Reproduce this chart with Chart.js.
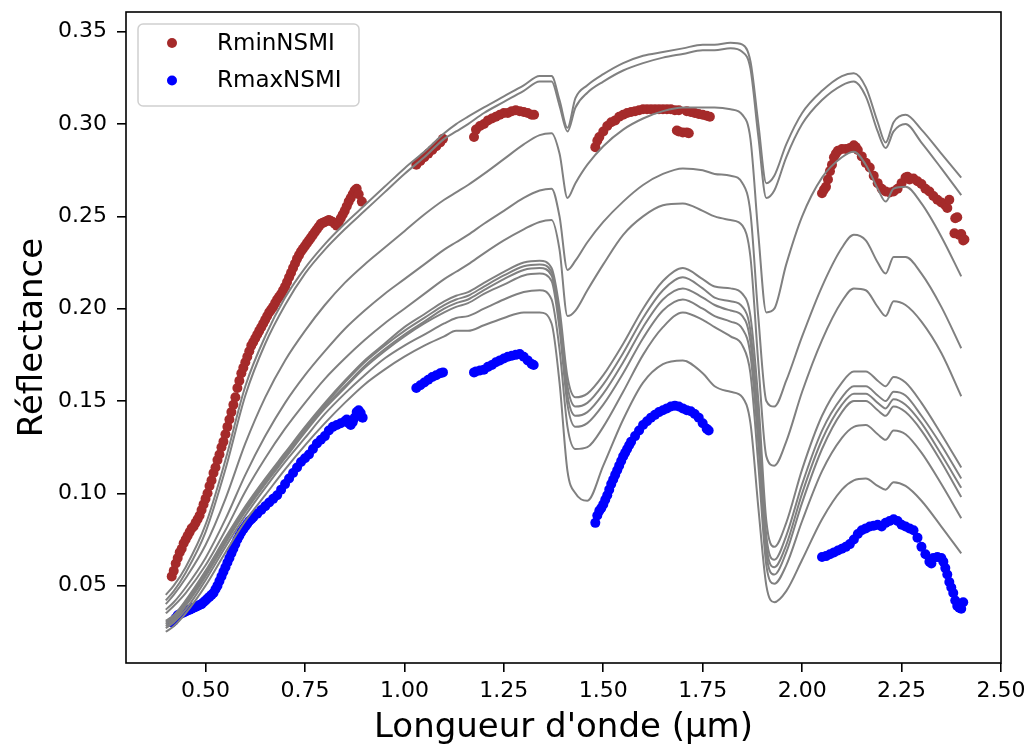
<!DOCTYPE html>
<html lang="fr">
<head>
<meta charset="utf-8">
<title>Réflectance</title>
<script src="https://cdn.jsdelivr.net/npm/chart.js@4.4.1/dist/chart.umd.min.js"></script>
<style>
  html, body { margin: 0; padding: 0; background: #fff; }
  #wrap { width: 1028px; height: 745px; }
</style>
</head>
<body>
<div id="wrap"><canvas id="chart" width="1028" height="745"></canvas></div>
<script>
// wavelengths (µm) shared by every grey spectrum
const wl = [0.40,0.42,0.45,0.50,0.55,0.60,0.65,0.70,0.75,0.80,0.85,0.90,0.95,1.00,1.05,1.10,1.13,1.16,1.20,1.25,
            1.30,1.34,1.37,1.39,1.41,1.43,1.46,1.50,1.55,1.60,1.65,1.70,1.75,1.78,1.82,1.85,1.87,1.89,1.91,1.93,
            1.96,2.00,2.05,2.10,2.13,2.16,2.19,2.21,2.23,2.26,2.30,2.35,2.40];

// reflectance spectra, brightest to darkest
const spec1  = [.045,.050,.060,.083,.118,.158,.185,.206,.222,.235,.246,.256,.266,.276,.285,.295,.300,.304,.309,.315,
                .321,.326,.326,.313,.298,.314,.321,.327,.333,.337,.339,.341,.343,.343,.344,.343,.334,.300,.268,.272,
                .289,.306,.318,.326,.3275,.320,.301,.290,.301,.305,.297,.284,.271];
const spec2  = [.042,.047,.057,.079,.113,.153,.181,.202,.219,.232,.243,.253,.263,.273,.282,.292,.296,.300,.306,.312,
                .318,.323,.323,.310,.296,.309,.317,.323,.329,.333,.336,.338,.340,.340,.341,.339,.330,.293,.260,.264,
                .282,.300,.313,.321,.323,.315,.296,.287,.296,.300,.290,.276,.2615];
const spec3  = [.040,.045,.054,.072,.097,.127,.152,.172,.188,.202,.214,.224,.233,.242,.251,.259,.263,.267,.273,.281,
                .289,.294,.295,.284,.260,.268,.278,.288,.297,.303,.307,.309,.309,.309,.308,.305,.292,.240,.198,.200,
                .224,.250,.271,.282,.285,.278,.265,.258,.265,.266,.257,.239,.2175];
const spec4  = [.037,.041,.049,.065,.086,.110,.131,.149,.164,.177,.189,.199,.208,.216,.224,.232,.236,.240,.246,.253,
                .260,.264,.265,.250,.221,.226,.236,.247,.258,.267,.273,.276,.275,.273,.272,.268,.252,.195,.150,.147,
                .161,.185,.212,.233,.240,.237,.225,.219,.228,.228,.219,.201,.1786];
const spec5  = [.035,.039,.046,.061,.080,.101,.119,.135,.149,.162,.173,.183,.192,.200,.208,.216,.220,.224,.230,.237,
                .243,.247,.248,.232,.196,.199,.210,.224,.240,.250,.256,.257,.253,.250,.248,.245,.228,.170,.120,.115,
                .128,.155,.183,.204,.211,.210,.201,.196,.204,.202,.193,.176,.1526];
const spec6  = [.031,.034,.042,.058,.076,.093,.108,.122,.136,.149,.161,.172,.181,.190,.197,.204,.207,.209,.214,.220,
                .225,.226,.222,.200,.163,.152,.154,.164,.181,.200,.215,.222,.216,.212,.211,.208,.196,.150,.085,.071,
                .084,.113,.142,.160,.166,.166,.161,.158,.163,.160,.149,.132,.114];
const spec7  = [.030,.033,.041,.057,.075,.092,.107,.121,.135,.148,.160,.171,.180,.188,.195,.202,.205,.207,.212,.218,
                .223,.224,.220,.196,.158,.147,.149,.159,.176,.195,.210,.217,.211,.206,.204,.201,.188,.140,.077,.064,
                .077,.105,.134,.152,.158,.158,.153,.150,.155,.153,.142,.126,.108];
const spec8  = [.029,.032,.040,.056,.074,.091,.106,.120,.134,.147,.158,.169,.178,.186,.193,.200,.203,.205,.210,.216,
                .221,.222,.218,.193,.153,.142,.144,.154,.171,.190,.205,.211,.206,.202,.199,.196,.182,.133,.072,.060,
                .072,.100,.129,.148,.154,.154,.149,.146,.151,.148,.138,.121,.103];
const spec9  = [.028,.031,.039,.055,.073,.090,.105,.119,.133,.146,.157,.168,.177,.185,.192,.198,.201,.203,.208,.213,
                .218,.219,.215,.189,.148,.136,.138,.148,.165,.184,.199,.205,.200,.196,.193,.189,.175,.126,.067,.056,
                .068,.095,.124,.144,.150,.150,.145,.142,.147,.144,.134,.117,.098];
const spec10 = [.027,.030,.037,.053,.071,.088,.103,.117,.130,.143,.154,.164,.173,.180,.186,.192,.195,.196,.200,.205,
                .209,.210,.205,.178,.136,.124,.125,.136,.155,.175,.190,.198,.194,.190,.185,.180,.165,.115,.061,.051,
                .061,.085,.112,.130,.136,.137,.132,.129,.134,.132,.122,.105,.0865];
const spec11 = [.025,.028,.035,.050,.068,.085,.099,.113,.126,.138,.149,.159,.167,.174,.180,.185,.188,.188,.191,.195,
                .198,.198,.192,.160,.112,.100,.096,.115,.140,.160,.170,.172,.165,.158,.155,.152,.138,.092,.050,.041,
                .047,.064,.086,.102,.107,.108,.104,.102,.106,.104,.096,.082,.0675];
const spectra = [spec1, spec2, spec3, spec4, spec5, spec6, spec7, spec8, spec9, spec10, spec11];

// RminNSMI points
const rminX = [0.415,0.42,0.425,0.43,0.435,0.44,0.445,0.45,0.455,0.46,0.465,0.47,0.475,0.48,0.485,0.49,0.495,0.50,0.505,0.51,
               0.515,0.52,0.525,0.53,0.535,0.54,0.545,0.55,0.555,0.56,0.565,0.57,0.575,0.58,0.585,0.59,0.595,0.60,0.605,0.61,
               0.615,0.62,0.625,0.63,0.635,0.64,0.645,0.65,0.655,0.66,0.665,0.67,0.675,0.68,0.685,0.69,0.695,0.70,0.705,0.71,
               0.715,0.72,0.725,0.73,0.735,0.74,0.745,0.75,0.755,0.76,0.765,0.77,0.775,0.78,0.785,0.79,0.795,0.80,0.805,0.81,
               0.815,0.82,0.825,0.83,0.835,0.84,0.845,0.85,0.855,0.86,0.865,0.87,0.875,0.88,0.885,0.893,
               1.03,1.04,1.05,1.06,1.07,1.08,1.09,1.097,
               1.175,1.18,1.19,1.20,1.21,1.22,1.23,1.24,1.25,1.26,1.27,1.28,1.29,1.30,1.31,1.32,1.326,
               1.48,1.485,1.49,1.50,1.51,1.52,1.53,1.54,1.55,1.56,1.57,1.58,1.59,1.60,1.61,1.62,1.63,1.64,1.65,1.66,1.67,
               1.68,1.69,1.71,1.72,1.73,1.74,1.75,1.76,1.768,1.685,1.69,1.70,1.71,1.715,
               2.05,2.055,2.06,2.065,2.07,2.075,2.08,2.085,2.09,2.10,2.11,2.12,2.13,2.135,2.14,2.15,2.16,2.17,2.18,2.19,2.20,
               2.21,2.22,2.23,2.24,2.25,2.26,2.265,2.27,2.28,2.29,2.30,2.31,2.32,2.33,2.34,2.35,2.36,2.365,2.37,2.385,
               2.39,2.383,2.395,2.40,2.405,2.408];
const rminY = [.055,.058,.062,.065,.068,.070,.073,.075,.077,.079,.081,.082,.084,.086,.088,.091,.094,.097,.100,.104,
               .107,.111,.114,.118,.121,.125,.128,.132,.136,.140,.144,.148,.152,.157,.161,.165,.168,.171,.174,.177,
               .180,.182,.184,.186,.188,.190,.192,.194,.196,.198,.1995,.201,.203,.205,.2065,.208,.210,.212,.2145,.217,
               .2195,.222,.2245,.227,.229,.231,.2325,.234,.2355,.237,.2385,.240,.2415,.243,.2445,.246,.2465,.247,.2475,.248,
               .2475,.247,.246,.245,.247,.249,.251,.253,.2555,.258,.260,.262,.264,.265,.262,.258,
               .278,.280,.282,.284,.286,.288,.290,.292,
               .293,.297,.299,.300,.302,.303,.304,.305,.306,.306,.307,.3075,.307,.3065,.306,.305,.305,
               .2875,.291,.293,.296,.299,.301,.302,.304,.305,.306,.3065,.307,.3075,.308,.308,.308,.308,.308,.308,.308,.308,
               .3075,.3075,.307,.3065,.306,.3055,.305,.3045,.304,.2965,.296,.2955,.2955,.295,
               .2625,.2645,.266,.270,.2745,.278,.282,.284,.2855,.2865,.2865,.287,.2885,.2875,.286,.2825,.279,.2765,.272,.268,.265,
               .2635,.263,.2635,.265,.268,.271,.2715,.270,.2705,.269,.2675,.265,.2635,.261,.259,.2575,.256,.2545,.259,.249,
               .2495,.2408,.240,.2405,.237,.2375];

// RmaxNSMI points
const rmaxX = [0.415,0.42,0.425,0.43,0.435,0.44,0.445,0.45,0.455,0.46,0.465,0.47,0.475,0.48,0.485,0.49,0.495,0.50,0.505,0.51,
               0.515,0.52,0.525,0.53,0.535,0.54,0.545,0.55,0.555,0.56,0.565,0.57,0.575,0.58,0.585,0.59,0.595,0.60,0.605,0.61,
               0.615,0.62,0.63,0.64,0.65,0.66,0.67,0.68,0.69,0.70,0.71,0.72,0.73,0.74,0.75,0.76,0.77,0.78,0.79,
               0.80,0.81,0.82,0.83,0.84,0.85,0.855,0.86,0.865,0.87,0.875,0.88,0.885,0.89,0.895,
               1.03,1.04,1.05,1.06,1.07,1.08,1.09,1.097,
               1.175,1.18,1.19,1.20,1.21,1.22,1.23,1.24,1.25,1.26,1.27,1.28,1.29,1.30,1.31,1.32,1.325,
               1.48,1.485,1.49,1.495,1.50,1.505,1.51,1.515,1.52,1.525,1.53,1.535,1.54,1.545,1.55,1.555,1.56,1.565,1.57,1.58,
               1.59,1.60,1.61,1.62,1.63,1.64,1.65,1.66,1.67,1.68,1.69,1.70,1.71,1.72,1.73,1.74,1.75,1.76,1.765,
               2.05,2.06,2.07,2.08,2.09,2.10,2.11,2.12,2.13,2.14,2.15,2.16,2.17,2.18,2.19,2.20,2.21,2.22,2.23,2.24,
               2.25,2.26,2.27,2.28,2.29,2.30,2.31,2.32,2.325,2.33,2.34,2.35,2.355,2.36,2.365,2.37,2.375,2.38,2.385,2.39,
               2.395,2.40,2.405];
const rmaxY = [.030,.031,.0325,.034,.0345,.035,.0355,.036,.0365,.037,.0375,.038,.0385,.039,.0395,.040,.041,.042,.043,.044,
               .045,.046,.048,.050,.0525,.055,.0575,.060,.0625,.065,.0675,.070,.0725,.075,.077,.079,.0805,.082,.0835,.085,
               .086,.087,.089,.091,.093,.095,.097,.099,.102,.105,.108,.111,.114,.117,.119,.121,.124,.127,.129,
               .131,.134,.136,.137,.138,.139,.140,.138,.137,.1385,.141,.144,.145,.1435,.141,
               .157,.1585,.160,.1615,.163,.164,.165,.1655,
               .1655,.166,.1665,.167,.1685,.1695,.171,.172,.173,.174,.1745,.175,.1755,.174,.172,.170,.1695,
               .084,.088,.0905,.092,.094,.0965,.099,.102,.105,.1075,.110,.1125,.115,.1175,.120,.122,.124,.126,.128,.131,
               .134,.137,.139,.141,.1425,.144,.145,.146,.147,.1475,.147,.146,.145,.1445,.143,.141,.138,.135,.134,
               .0655,.066,.067,.068,.069,.070,.071,.0725,.075,.078,.080,.081,.082,.0825,.083,.082,.084,.085,.086,.085,
               .083,.082,.081,.080,.076,.071,.067,.063,.062,.065,.0655,.065,.063,.0595,.056,.052,.049,.046,.042,.039,
               .038,.0375,.041];

const xTicks = [0.50, 0.75, 1.00, 1.25, 1.50, 1.75, 2.00, 2.25, 2.50];
const yTicks = [0.05, 0.10, 0.15, 0.20, 0.25, 0.30, 0.35];

Chart.defaults.font.family = "'DejaVu Sans', sans-serif";
Chart.defaults.color = '#000';

function pts(xs, ys) {
  return xs.map((x, i) => ({ x: x, y: ys[i] }));
}

const datasets = [
  {
    type: 'scatter', label: 'RminNSMI', inLegend: true, order: 1,
    data: pts(rminX, rminY),
    pointRadius: 5, pointHoverRadius: 5, pointBorderWidth: 0,
    backgroundColor: '#a52a2a', borderColor: '#a52a2a'
  },
  {
    type: 'scatter', label: 'RmaxNSMI', inLegend: true, order: 1,
    data: pts(rmaxX, rmaxY),
    pointRadius: 5, pointHoverRadius: 5, pointBorderWidth: 0,
    backgroundColor: '#0000ff', borderColor: '#0000ff'
  }
];
spectra.forEach((s, k) => {
  datasets.push({
    type: 'line', label: 'spectre ' + (k + 1), order: 0,
    data: pts(wl, s),
    borderColor: '#808080', borderWidth: 2,
    pointRadius: 0, fill: false,
    cubicInterpolationMode: 'monotone'
  });
});

// box around the plot + legend in the upper left corner
const frameLegend = {
  id: 'frameLegend',
  afterDatasetsDraw(chart) {
    const { ctx, chartArea: a } = chart;
    ctx.save();
    ctx.strokeStyle = '#000';
    ctx.lineWidth = 1.6;
    ctx.strokeRect(a.left, a.top, a.right - a.left, a.bottom - a.top);
    ctx.restore();
  },
  afterDraw(chart) {
    const { ctx, chartArea: a } = chart;
    const items = chart.data.datasets.filter(d => d.inLegend);
    const bx = a.left + 12, by = a.top + 12, bw = 221, bh = 82;
    ctx.save();
    ctx.beginPath();
    ctx.roundRect(bx, by, bw, bh, 5);
    ctx.fillStyle = 'rgba(255,255,255,0.8)';
    ctx.fill();
    ctx.strokeStyle = '#d0d0d0';
    ctx.lineWidth = 1.5;
    ctx.stroke();
    ctx.font = "23px 'DejaVu Sans'";
    ctx.textBaseline = 'middle';
    ctx.textAlign = 'left';
    items.forEach((d, i) => {
      const y = by + 19 + i * 37.5;
      ctx.beginPath();
      ctx.arc(bx + 34, y, 5, 0, Math.PI * 2);
      ctx.fillStyle = d.backgroundColor;
      ctx.fill();
      ctx.fillStyle = '#000';
      ctx.fillText(d.label, bx + 79, y + 1);
    });
    ctx.restore();
  }
};

new Chart(document.getElementById('chart'), {
  data: { datasets: datasets },
  options: {
    responsive: false,
    animation: false,
    devicePixelRatio: 1,
    layout: { padding: { top: 12, right: 27, left: 0, bottom: 0 } },
    plugins: { legend: { display: false }, tooltip: { enabled: false } },
    scales: {
      x: {
        type: 'linear', position: 'bottom', min: 0.3, max: 2.5,
        afterBuildTicks: s => { s.ticks = xTicks.map(v => ({ value: v })); },
        afterFit: s => { s.height = 82; s.paddingLeft = 0; s.paddingRight = 0; },
        ticks: { font: { size: 22 }, color: '#000', padding: 6, maxRotation: 0,
                 callback: v => v.toFixed(2) },
        grid: { drawOnChartArea: false, drawTicks: true, tickLength: 9, color: '#000', lineWidth: 1.6 },
        border: { display: false },
        title: { display: true, text: "Longueur d'onde (µm)", color: '#000',
                 font: { size: 34, lineHeight: 1 }, padding: { top: 0, bottom: 0 } }
      },
      y: {
        type: 'linear', position: 'left', min: 0.0081, max: 0.3607,
        afterBuildTicks: s => { s.ticks = yTicks.map(v => ({ value: v })); },
        afterFit: s => { s.width = 126; s.paddingTop = 0; s.paddingBottom = 0; },
        ticks: { font: { size: 22 }, color: '#000', padding: 10,
                 callback: v => v.toFixed(2) },
        grid: { drawOnChartArea: false, drawTicks: true, tickLength: 9, color: '#000', lineWidth: 1.6 },
        border: { display: false },
        title: { display: true, text: 'Réflectance', color: '#000',
                 font: { size: 34, lineHeight: 1 }, padding: { top: 16, bottom: 0 } }
      }
    }
  },
  plugins: [frameLegend]
});
</script>
</body>
</html>
